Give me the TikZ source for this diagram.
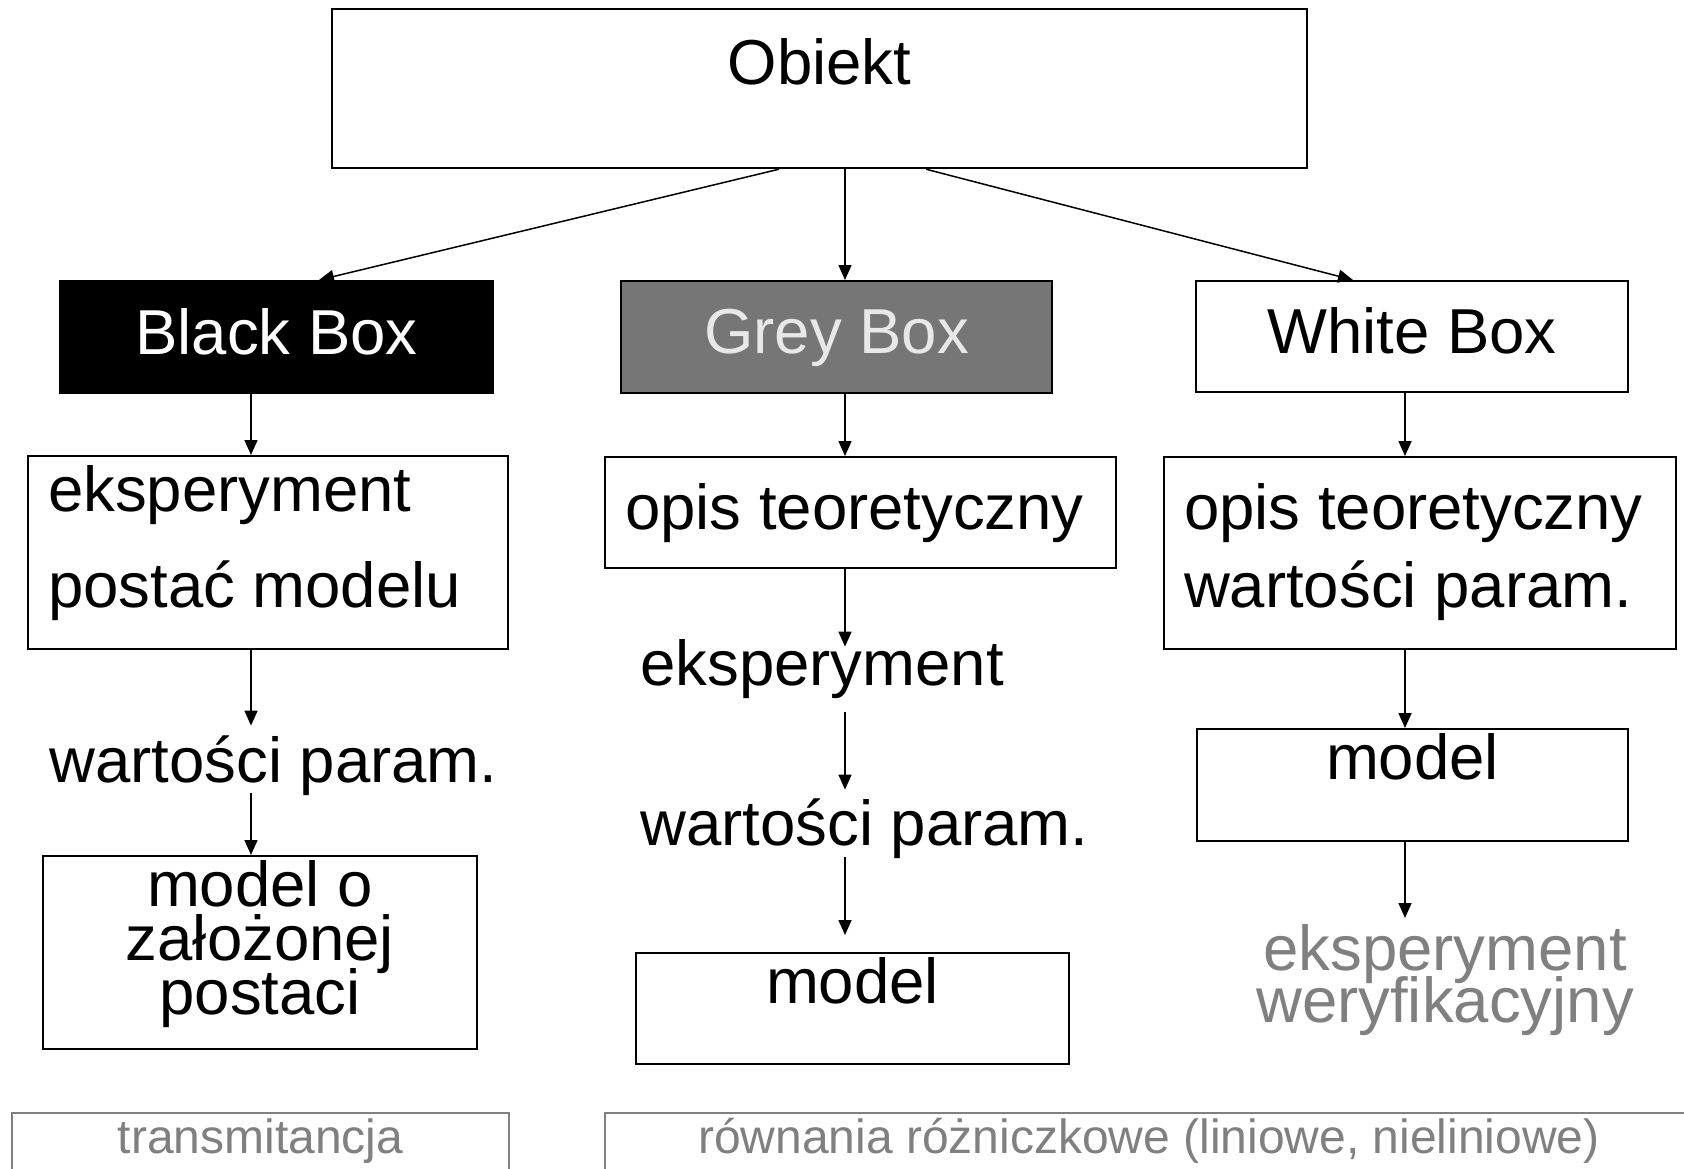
\documentclass[tikz,border=0pt]{standalone}
\usepackage{fontspec}
\setmainfont{Liberation Sans}
\usetikzlibrary{arrows.meta}
\definecolor{szary}{RGB}{128,128,128}
\definecolor{ciemny}{RGB}{118,118,118}
\definecolor{jasny}{RGB}{232,232,232}
\newcommand\duzy[1]{\fontsize{31.75pt}{#1}\selectfont\lineskiplimit=-100pt}

\begin{document}
\begin{tikzpicture}[x=0.5pt,y=0.5pt,yscale=-1,xscale=1,
  blok/.style={draw,line width=1.1pt,inner sep=0pt,font=\duzy{38pt}},
  napis/.style={inner sep=0pt,font=\duzy{38pt}},
  dolny/.style={draw=szary,line width=1pt,inner sep=0pt,text=szary,font=\fontsize{24pt}{29pt}\selectfont},
  strz/.style={line width=0.75pt,-{Triangle[length=7.5pt,width=6.5pt]}}]
\clip (0,0) rectangle (1684,1168);

%columns of the arrows
\coordinate (kolA) at (251,0);
\coordinate (kolB) at (845,0);
\coordinate (kolC) at (1405,0);
\coordinate (koniecG) at (845,935);

%Shape: Rectangle
\node[blok,anchor=north,minimum width=487.5pt,text height=37.5pt,text depth=42pt] (obiekt) at (819.5,8) {Obiekt};

%Shape: Rectangle
\node[blok,anchor=north,fill=black,text=white,minimum width=216.5pt,text height=36.5pt,text depth=19.5pt] (black) at (276.5,280) {Black Box};
%Shape: Rectangle
\node[blok,anchor=north,fill=ciemny,text=jasny,minimum width=215.5pt,text height=36pt,text depth=20pt] (grey) at (836.5,280) {Grey Box};
%Shape: Rectangle
\node[blok,anchor=north,minimum width=216pt,text height=36pt,text depth=19.5pt] (white) at (1412,280) {White Box};

% Black Box column
\node[blok,anchor=north,inner xsep=10pt,text width=220pt,align=flush left,font=\duzy{48pt},text height=27.5pt,text depth=69pt] (eb) at (268,455) {eksperyment\\postać modelu};
% Text Node
\node[napis,anchor=base west,text height=28pt,text depth=5.5pt] (wA) at (49,782) {wartości param.};
\node[blok,anchor=north,text width=217pt,align=flush center,font=\duzy{27pt},text height=25pt,text depth=71.5pt] (mb) at (260,855) {model o\\założonej\\postaci};

% Grey Box column
\node[blok,anchor=north,inner xsep=10pt,text width=235.5pt,align=flush left,text height=36pt,text depth=19.5pt] (ob) at (860.5,456) {opis teoretyczny};
% Text Node
\node[napis,anchor=base west,text height=19pt,text depth=13.5pt] (eG) at (640,685) {eksperyment};
% Text Node
\node[napis,anchor=base west,text height=27.5pt,text depth=6pt] (wG) at (640,845) {wartości param.};
\node[blok,anchor=north,minimum width=216.5pt,text height=25pt,text depth=30.5pt] (mG) at (852.5,952) {model};

% White Box column
\node[blok,anchor=north,inner xsep=10pt,text width=236pt,align=flush left,font=\duzy{39pt},text height=36pt,text depth=60pt] (ow) at (1420,456) {opis teoretyczny\\wartości param.};
\node[blok,anchor=north,minimum width=215.5pt,text height=25pt,text depth=31pt] (mW) at (1412.5,728) {model};
% Text Node
\node[napis,anchor=north,text=szary,text width=200pt,align=flush center,font=\duzy{26pt},text height=26pt,text depth=30pt] (ew) at (1445,918) {eksperyment\\weryfikacyjny};

% bottom boxes
\node[dolny,anchor=north,minimum width=248.5pt,text height=20pt,text depth=40pt] (tr) at (260.5,1112) {transmitancja};
\node[dolny,anchor=north,minimum width=544pt,text height=20pt,text depth=40pt] (rr) at (1149,1112) {równania różniczkowe (liniowe, nieliniowe)};

%Straight Lines
\draw[strz] ([xshift=-20.25pt]obiekt.south) -- ([xshift=21.25pt]black.north);
\draw[strz] (obiekt.south -| kolB) -- (grey.north -| kolB);
\draw[strz] ([xshift=53.25pt]obiekt.south) -- ([xshift=-29.5pt]white.north);

\draw[strz] (black.south -| kolA) -- (eb.north -| kolA);
\draw[strz] (eb.south -| kolA) -- (wA.north -| kolA);
\draw[strz] (wA.south -| kolA) -- (mb.north -| kolA);

\draw[strz] (grey.south -| kolB) -- (ob.north -| kolB);
\draw[strz] (ob.south -| kolB) -- (eG.north -| kolB);
\draw[strz] (eG.south -| kolB) -- (wG.north -| kolB);
\draw[strz] (wG.south -| kolB) -- (koniecG);

\draw[strz] (white.south -| kolC) -- (ow.north -| kolC);
\draw[strz] (ow.south -| kolC) -- (mW.north -| kolC);
\draw[strz] (mW.south -| kolC) -- (ew.north -| kolC);
\end{tikzpicture}
\end{document}
